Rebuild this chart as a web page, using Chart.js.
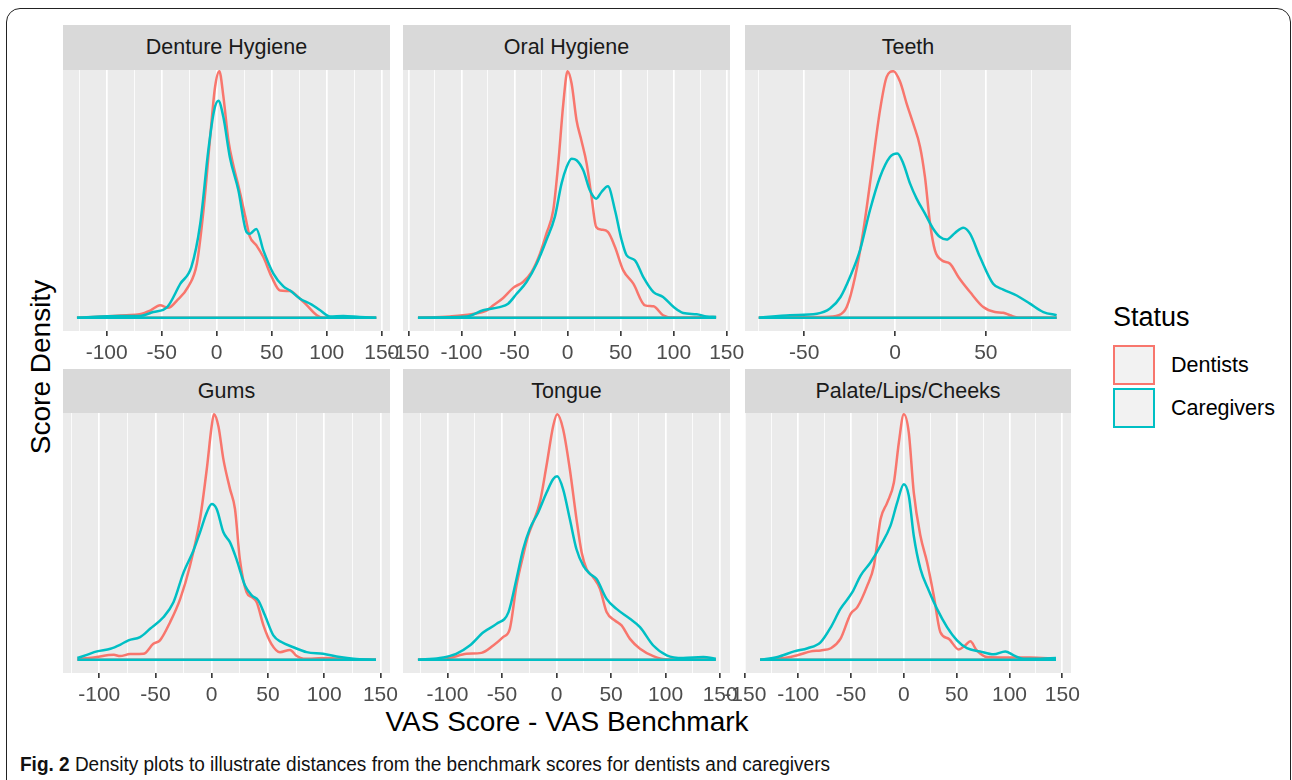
<!DOCTYPE html>
<html>
<head>
<meta charset="utf-8">
<script src="https://cdn.jsdelivr.net/npm/chart.js@4/dist/chart.umd.min.js"></script>
<style>
  body { margin: 0; background: #fff; font-family: "Liberation Sans", Arial, sans-serif; }
  #fig { position: relative; width: 1292px; height: 780px; overflow: hidden; }
  .frame { position: absolute; left: 6px; top: 8px; width: 1285px; height: 820px;
           border: 1.5px solid #222; border-radius: 14px; box-sizing: border-box; }
  .strip { position: absolute; background: #D9D9D9; color: #1A1A1A; font-size: 21.5px;
           display: flex; align-items: center; justify-content: center; }
  .panel { position: absolute; }
  .txt { position: absolute; white-space: nowrap; line-height: 1; }
  .key { position: absolute; width: 42px; height: 40px; background: #F2F2F2; box-sizing: border-box; border: 2px solid; }
</style>
</head>
<body>
<div id="fig">
  <div class="frame"></div>
  <div class="txt" style="left:41px;top:367px;font-size:28px;color:#000;transform:translate(-50%,-50%) rotate(-90deg);">Score Density</div>
  <div class="txt" style="left:567px;top:722px;font-size:28px;color:#000;transform:translate(-50%,-50%);">VAS Score - VAS Benchmark</div>
  <div class="txt" style="left:1113px;top:317px;font-size:27px;color:#000;transform:translateY(-50%);">Status</div>
  <div class="key" style="left:1113px;top:345px;border-color:#F8766D;"></div>
  <div class="key" style="left:1113px;top:388px;border-color:#00BFC4;"></div>
  <div class="txt" style="left:1171px;top:366px;font-size:21.5px;color:#000;transform:translateY(-50%);">Dentists</div>
  <div class="txt" style="left:1171px;top:409px;font-size:21.5px;color:#000;transform:translateY(-50%);">Caregivers</div>
  <div class="txt" style="left:20px;top:764px;font-size:20px;color:#111;transform-origin:0 50%;transform:translateY(-50%) scaleX(0.95);"><b>Fig. 2</b> Density plots to illustrate distances from the benchmark scores for dentists and caregivers</div>
</div>
<script>
// relative density, peak of the tallest curve in each panel = 100
const dentureDentistsX = [-127, -82, -70, -60, -51.5, -44, -36, -26, -18, -12, -6, -1.5, 2.4, 6, 10.6, 15, 20, 26, 30, 36, 42.4, 50, 57.6, 66.7, 74, 82, 91, 97, 145];
const dentureDentistsY = [0, 1, 1.4, 3, 5, 4, 7, 12.5, 22, 43.6, 73, 93.6, 100, 90, 72, 62, 53, 41, 33, 29.4, 24.6, 16.5, 11, 10.8, 8.4, 5, 1, 0, 0];
const dentureCaregiversX = [-127, -88, -70, -57.6, -45, -33, -23, -15, -7.6, -2.4, 1.5, 6, 12, 19.7, 27, 30, 36, 42.4, 51.5, 60.6, 66.7, 75.8, 86, 94, 103, 115, 130, 145];
const dentureCaregiversY = [0, 0.7, 0.7, 2.3, 4.3, 13.8, 20.6, 38, 68, 84, 88, 81.5, 65, 51.7, 34.8, 34, 36, 27.3, 17.9, 12.7, 11, 7.7, 5.4, 3, 0.5, 0.7, 0.3, 0];

const oralDentistsX = [-141, -111, -90.6, -76, -70, -60.7, -51, -42, -34, -26, -20, -13.5, -8.8, -4, 0, 3.8, 8.5, 13, 18, 22.6, 27, 32, 38, 44.7, 52.5, 62, 73, 81, 90, 100, 140];
const oralDentistsY = [0, 0.5, 1.4, 3, 5, 8, 12.2, 14.5, 18.5, 26, 34, 43.6, 62.4, 86.9, 100, 95, 80, 72, 62.5, 49, 36.8, 35.7, 34.8, 28.7, 19.2, 13.8, 5, 4.6, 1, 0, 0.3];
const oralCaregiversX = [-141, -95, -79.6, -64, -56, -48, -38.7, -29, -20, -12, -5.7, -1, 3.8, 8.5, 14.8, 21, 27, 32, 38, 44.7, 51, 55.7, 63.5, 71.4, 81, 90, 100, 109, 121.7, 131, 140];
const oralCaregiversY = [0, 0.5, 3, 4.3, 5.7, 9.7, 14.5, 22, 31.4, 40.9, 54.4, 61, 64.5, 63.9, 59.8, 51.7, 48.3, 51, 53.3, 43.6, 31.4, 25.3, 23.3, 16.5, 10.4, 8.4, 4.3, 1.9, 1.4, 0.5, 0.3];

const teethDentistsX = [-75, -39.4, -31, -26.6, -22, -17.4, -12.8, -8.3, -4.6, -0.9, 2.8, 6.4, 10, 13.8, 16.5, 19.3, 22, 25.7, 30.3, 34.9, 41.3, 48.6, 55, 59.6, 63.3, 67.9, 89];
const teethDentistsY = [0, 0.3, 1, 4.3, 16.5, 35.5, 59.8, 84, 97.7, 100, 95.7, 86.9, 78.8, 69.3, 57, 38.2, 27.3, 23.3, 21.9, 16.5, 10.4, 4.3, 2.3, 2, 1, 0, 0];
const teethCaregiversX = [-75, -57.8, -43, -35.8, -30, -24.8, -19.3, -13.8, -8.3, -2.8, 1.3, 4.6, 8.3, 11.9, 16.5, 21, 24.8, 28.4, 33, 37.6, 41.3, 46.8, 54, 59.6, 67, 74.3, 81.7, 89];
const teethCaregiversY = [0, 1, 1.6, 3.7, 8.4, 16.5, 27.3, 43.6, 57, 65.2, 66.6, 62.5, 54.4, 48.3, 42.2, 36.1, 32.7, 31.7, 34.4, 36.5, 34.1, 24.6, 13.8, 11.4, 9, 5.7, 2.3, 1];

const gumsDentistsX = [-119.4, -105, -87, -81.5, -72.6, -60.7, -51.9, -46, -37, -28, -19.3, -10.4, -4.4, 0, 2, 6, 10.4, 16.3, 20.7, 25, 31, 35.6, 40, 46, 53, 60.7, 69.6, 75.6, 81.5, 102, 123, 146];
const gumsDentistsY = [0.4, 0.9, 2, 1.5, 2.3, 2.4, 6.5, 7.9, 15.3, 24.8, 38.3, 57.3, 77.6, 95.3, 100, 95, 81.6, 69.5, 61.4, 41, 27.5, 25.5, 23.4, 14, 6.5, 3.1, 4, 1.5, 0.4, 0.7, 0.1, 0];
const gumsCaregiversX = [-119.4, -111, -102, -90, -81.5, -74, -63.7, -54.8, -43, -34, -25, -16.3, -10.4, -4.4, 0, 4.4, 10.4, 16.3, 22, 29.6, 35.6, 41.5, 47.4, 54.8, 62, 72.6, 84.4, 99, 114, 126, 146];
const gumsCaregiversY = [0.7, 2, 3.4, 4.5, 6.1, 7.9, 9.2, 12.6, 17.3, 23.4, 35.6, 44.4, 51.9, 60, 63.4, 61.4, 51.9, 47.8, 41, 30.2, 26.2, 24.1, 18, 9.9, 7.2, 5.1, 3.1, 2.4, 1.1, 0.4, 0];

const tongueDentistsX = [-127, -98, -82.6, -68.8, -58, -49, -42.8, -36.7, -30.6, -26, -21.4, -15.3, -9.2, -3, 0.6, 6, 12.2, 18.3, 23, 27.5, 33.6, 39.8, 45.9, 53.5, 59.6, 67.3, 76.5, 88.7, 101, 146];
const tongueDentistsY = [0, 0.7, 2.4, 2.8, 5.8, 9.2, 12.6, 30.2, 42.4, 50.5, 56, 64, 79, 95.3, 100, 94, 77.6, 57.3, 43.8, 37, 33.6, 28.9, 19.4, 16, 14, 8.5, 4.5, 1.5, 0.1, 0];
const tongueCaregiversX = [-127, -107, -92, -79.5, -67, -55, -44, -36.7, -30.6, -24.5, -16.8, -9.2, -3, 0.6, 6, 12.2, 18.3, 24.5, 30.6, 36.7, 45.9, 55, 67.3, 76.5, 88.7, 101, 116, 134.5, 146];
const tongueCaregiversY = [0, 0.7, 2.4, 5.8, 11.2, 14.6, 19.4, 32.9, 45, 53.3, 60, 68, 73.6, 74.7, 69.5, 57.3, 45, 38.3, 35, 32.9, 24.8, 20.7, 16.7, 13.3, 5.8, 1.8, 0.7, 1.1, 0.4];

const palateDentistsX = [-136, -113, -100.6, -88, -78.6, -69, -60, -50.3, -44, -34.6, -28.3, -22, -15.7, -9.4, -4.7, 0, 4.7, 9.4, 15.7, 22, 28.3, 34.6, 42.5, 51.9, 58, 62.9, 69, 78.6, 97.5, 119.5, 144];
const palateDentistsY = [0, 0.7, 1.8, 3.4, 3.8, 4.7, 8.5, 18.7, 21.4, 30.2, 38.3, 57.3, 64, 72.2, 88.5, 100, 92.5, 68.2, 50.5, 39.7, 26.2, 11.2, 8.5, 4.2, 5.8, 7.5, 3.8, 1.1, 0.9, 0.9, 0.4];
const palateCaregiversX = [-136, -119.5, -103.8, -91, -78.6, -69, -60, -48.7, -40.9, -31.4, -22, -12.6, -6.3, 0, 4.7, 9.4, 15.7, 23.6, 31.4, 40.9, 50.3, 59.7, 72, 85, 96, 104, 113, 129, 144];
const palateCaregiversY = [0, 1.1, 3.4, 4.7, 7.2, 13.3, 20.7, 27.5, 34.3, 39.7, 46.5, 54.6, 64, 71.5, 66.8, 50.5, 37, 28.2, 20.7, 13.3, 7.9, 4.7, 3.4, 2.2, 3.4, 1.8, 0.4, 0.4, 0.7];

const facetTitles = ["Denture Hygiene", "Oral Hygiene", "Teeth", "Gums", "Tongue", "Palate/Lips/Cheeks"];
const xLimits = [[-139.7, 157.5], [-155.1, 153.1], [-82.6, 96.9], [-132.2, 158.5], [-140.7, 159], [-150.3, 158.2]];
const GRID_STEP = 25;   // minor grid every 25, labelled ticks every 50
const LABEL_STEP = 50;

const DENTIST_COLOR = "#F8766D";
const CAREGIVER_COLOR = "#00BFC4";
const FONT = "'Liberation Sans', Arial, sans-serif";

// panel geometry (plot area in page px)
const cols = [{ left: 63, width: 327 }, { left: 403, width: 327 }, { left: 745, width: 326 }];
const rows = [{ stripTop: 25, stripH: 45, top: 70, height: 261 }, { stripTop: 369, stripH: 44, top: 413, height: 260 }];

const panels = [
  [dentureDentistsX, dentureDentistsY, dentureCaregiversX, dentureCaregiversY],
  [oralDentistsX, oralDentistsY, oralCaregiversX, oralCaregiversY],
  [teethDentistsX, teethDentistsY, teethCaregiversX, teethCaregiversY],
  [gumsDentistsX, gumsDentistsY, gumsCaregiversX, gumsCaregiversY],
  [tongueDentistsX, tongueDentistsY, tongueCaregiversX, tongueCaregiversY],
  [palateDentistsX, palateDentistsY, palateCaregiversX, palateCaregiversY],
];

const toPoints = (xs, ys) => xs.map((x, i) => ({ x: x, y: ys[i] }));
const baseline = (xs) => [{ x: xs[0], y: 0 }, { x: xs[xs.length - 1], y: 0 }];

const panelBg = {
  id: "panelBg",
  beforeDraw(chart) {
    const { ctx, chartArea: a } = chart;
    ctx.save();
    ctx.fillStyle = "#EBEBEB";
    ctx.fillRect(a.left, a.top, a.right - a.left, a.bottom - a.top);
    ctx.restore();
  },
};

const isLabelled = (v) => Math.abs(v % LABEL_STEP) < 1e-6;
const isMajor = (c) => c.tick && isLabelled(c.tick.value);

const fig = document.getElementById("fig");
const PAD = 40;

panels.forEach((p, i) => {
  const col = cols[i % 3];
  const row = rows[Math.floor(i / 3)];

  const strip = document.createElement("div");
  strip.className = "strip";
  strip.style.left = col.left + "px";
  strip.style.top = row.stripTop + "px";
  strip.style.width = col.width + "px";
  strip.style.height = row.stripH + "px";
  strip.textContent = facetTitles[i];
  fig.appendChild(strip);

  const holder = document.createElement("div");
  holder.className = "panel";
  holder.style.left = (col.left - PAD) + "px";
  holder.style.top = row.top + "px";
  const canvas = document.createElement("canvas");
  canvas.width = col.width + 2 * PAD;
  canvas.height = row.height + 40;
  holder.appendChild(canvas);
  fig.appendChild(holder);

  const line = (color, data, smooth) => ({
    data: data,
    borderColor: color,
    borderWidth: 2.5,
    pointRadius: 0,
    fill: false,
    tension: smooth ? 0.4 : 0,
    cubicInterpolationMode: smooth ? "monotone" : "default",
  });

  new Chart(canvas, {
    type: "line",
    data: {
      datasets: [
        line(CAREGIVER_COLOR, baseline(p[2]), false),
        line(CAREGIVER_COLOR, toPoints(p[2], p[3]), true),
        line(DENTIST_COLOR, baseline(p[0]), false),
        line(DENTIST_COLOR, toPoints(p[0], p[1]), true),
      ],
    },
    options: {
      responsive: false,
      animation: false,
      layout: { padding: { left: PAD, right: PAD, top: 0, bottom: 0 } },
      plugins: { legend: { display: false }, tooltip: { enabled: false } },
      scales: {
        x: {
          type: "linear",
          min: xLimits[i][0],
          max: xLimits[i][1],
          afterFit(scale) { scale.height = 40; },
          afterBuildTicks(scale) {
            const ticks = [];
            for (let v = Math.ceil(scale.min / GRID_STEP) * GRID_STEP; v <= scale.max; v += GRID_STEP) {
              ticks.push({ value: v });
            }
            scale.ticks = ticks;
          },
          border: { display: false },
          grid: {
            color: "#FFFFFF",
            lineWidth: (c) => (isMajor(c) ? 1.7 : 0.8),
            tickColor: (c) => (isMajor(c) ? "#333333" : "rgba(0,0,0,0)"),
            tickLength: 5,
            tickWidth: 1.6,
          },
          ticks: {
            autoSkip: false,
            maxRotation: 0,
            padding: 5,
            color: "#4D4D4D",
            font: { size: 21, family: FONT },
            callback: (v) => (isLabelled(v) ? String(v) : ""),
          },
        },
        y: { display: false, min: -5.4, max: 100.5 },
      },
    },
    plugins: [panelBg],
  });
});
</script>
</body>
</html>
